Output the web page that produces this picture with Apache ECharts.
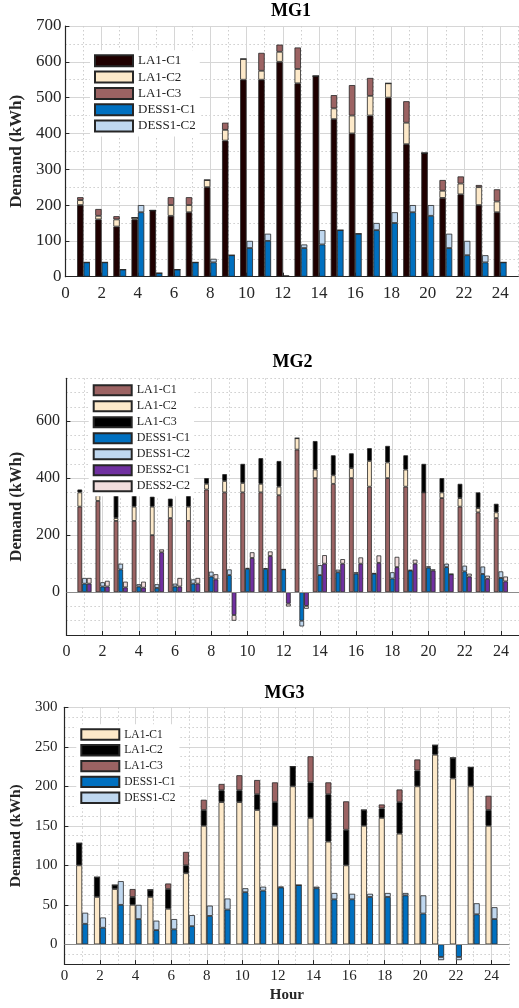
<!DOCTYPE html>
<html><head><meta charset="utf-8">
<script src="https://cdn.jsdelivr.net/npm/echarts@6/dist/echarts.min.js"></script>
<style>
html,body{margin:0;padding:0;background:#fff;width:519px;height:1008px;overflow:hidden}
.p{position:absolute;left:0;width:519px}
</style></head>
<body>
<div id="mg1" class="p" style="top:0;height:320px"></div>
<div id="mg2" class="p" style="top:320px;height:360px"></div>
<div id="mg3" class="p" style="top:680px;height:328px"></div>
<script>
// ---------- data ----------
const hourCategories = ['0','1','2','3','4','5','6','7','8','9','10','11','12','13','14','15','16','17','18','19','20','21','22','23','24','25'];
const hours = [1,2,3,4,5,6,7,8,9,10,11,12,13,14,15,16,17,18,19,20,21,22,23,24];

// MG1
const mg1_LA1_C1   = [200,160,140,160,185,170,180,250,380,550,550,600,540,560,440,400,450,500,370,345,220,230,200,180];
const mg1_LA1_C2   = [14,10,20,5,0,30,20,20,30,58,25,28,40,0,30,50,55,40,60,0,20,30,50,30];
const mg1_LA1_C3   = [8,19,9,0,0,22,22,0,20,0,50,20,60,0,37,85,50,0,60,0,30,20,6,34];
const mg1_DESS1_C1 = [40,40,20,180,10,20,40,40,60,80,100,2,80,90,130,120,130,150,180,170,80,60,40,40];
const mg1_DESS1_C2 = [0,0,0,20,0,0,0,10,0,20,20,0,10,40,0,0,20,30,20,30,40,40,20,0];
const mg1_yTicks = [0,100,200,300,400,500,600,700];

// MG2
const mg2_LA1_C1   = [300,320,250,250,200,260,250,360,350,350,350,340,500,400,380,400,370,400,370,350,330,300,280,260];
const mg2_LA1_C2   = [50,20,10,50,100,40,50,20,40,33,30,30,40,30,30,35,90,55,60,0,20,30,15,20];
const mg2_LA1_C3   = [10,20,80,45,35,28,50,20,24,67,90,90,0,100,70,52,45,58,50,100,50,50,55,30];
const mg2_DESS1_C1 = [30,20,80,20,15,20,30,55,60,82,82,80,-100,60,70,65,65,48,76,86,88,73,64,50];
const mg2_DESS1_C2 = [20,15,20,8,13,10,15,17,20,3,2,0,-20,35,9,5,2,22,2,5,12,20,26,23];
const mg2_DESS2_C1 = [30,20,17,16,140,20,30,45,-80,120,127,-40,-48,100,100,100,103,88,100,76,63,55,47,38];
const mg2_DESS2_C2 = [20,20,20,21,10,30,20,18,-20,20,16,-10,-10,30,16,22,26,36,14,4,1,10,11,17];
const mg2_yTicks = [0,200,400,600];

// MG3
const mg3_LA1_C1   = [100,60,70,50,60,45,90,150,180,180,170,150,200,160,130,100,150,160,140,200,240,210,200,150];
const mg3_LA1_C2   = [28,25,5,10,9,25,10,20,15,15,20,30,25,45,60,45,20,12,40,20,12,26,24,20];
const mg3_LA1_C3   = [0,0,0,10,0,7,17,13,8,19,18,25,0,33,15,36,0,5,16,14,0,0,0,18];
const mg3_DESS1_C1 = [26,21,50,32,18,19,23,36,44,66,68,72,75,71,57,57,60,60,62,39,-16,-16,38,32];
const mg3_DESS1_C2 = [14,13,30,18,12,13,14,13,14,5,5,1,0,2,8,7,4,5,3,23,-4,-4,14,15];
const mg3_yTicks = [0,50,100,150,200,250,300];

// ---------- styling ----------
const FONT = '"Liberation Serif","Times New Roman",serif';
const AX = '#262626';
const C_DARK = '#1f0000', C_CREAM = '#fde9c9', C_MAUVE = '#9c6363', C_BLUE = '#0070c0',
      C_LBLUE = '#bfd7ef', C_PURPLE = '#7030a0', C_PINK = '#f1dcdc', C_BLACK = '#000000';

function build(elId, cfg) {
  const chart = echarts.init(document.getElementById(elId), null, {renderer: 'canvas'});
  const series = cfg.series.map((s, k) => {
    const o = {
      type: 'bar', name: s.name, stack: s.stack, xAxisIndex: 1, yAxisIndex: 1,
      barWidth: cfg.barWidth, barGap: '0%',
      data: hours.map((h, i) => [String(h), s.values[i]]),
      itemStyle: {color: s.color, borderColor: '#262626', borderWidth: 0.8},
      emphasis: {disabled: true}, animation: false
    };
    if (k === 0 && cfg.baseline) {
      o.markLine = {silent: true, symbol: ['none','none'], label: {show: false}, animation: false,
        lineStyle: {color: '#8c8c8c', type: 'solid', width: 1}, data: [{yAxis: 0}]};
    }
    return o;
  });
  const yMajors = cfg.yTicks;
  chart.setOption({
    animation: false,
    title: {text: cfg.title, left: cfg.titleLeft, top: cfg.titleTop, padding: 0,
      textStyle: {fontFamily: FONT, fontWeight: 'bold', fontSize: 18, color: '#000'}},
    legend: {orient: 'vertical', left: cfg.legendLeft, top: cfg.legendTop, padding: 4,
      backgroundColor: '#fff', icon: 'rect', itemWidth: 38, itemHeight: cfg.legendItemH,
      itemGap: cfg.legendGap, selectedMode: false,
      textStyle: {fontFamily: FONT, fontSize: cfg.legendFont, color: '#222', lineHeight: cfg.legendItemH},
      data: cfg.series.map(s => s.name)},
    grid: cfg.grid,
    xAxis: [
      {type: 'category', data: hourCategories, boundaryGap: false, position: 'bottom',
        axisLine: {show: false, onZero: false}, axisTick: {show: false}, axisLabel: {show: false},
        splitLine: {show: true, interval: 0, lineStyle: {color: '#cdcdcd', type: [1.5, 2.5], width: 1}}},
      {type: 'category', data: hourCategories, boundaryGap: false, position: 'bottom',
        axisLine: {show: true, onZero: false, lineStyle: {color: AX, width: 1.2}},
        axisTick: {show: true, inside: true, length: 4, interval: 1, lineStyle: {color: AX}},
        axisLabel: {interval: 1, fontFamily: FONT, fontSize: cfg.tickFont, color: AX, margin: cfg.xLabelMargin},
        splitLine: {show: true, interval: 1, lineStyle: {color: '#d6d6d6', width: 1}},
        name: cfg.xName || '', nameLocation: 'middle', nameGap: cfg.xNameGap || 16,
        nameTextStyle: {fontFamily: FONT, fontWeight: 'bold', fontSize: 15, color: AX}}
    ],
    yAxis: [
      {type: 'value', min: cfg.yMin, max: cfg.yMax, interval: cfg.yMinor, position: 'left',
        axisLine: {show: false}, axisTick: {show: false}, axisLabel: {show: false},
        splitLine: {show: true, lineStyle: {color: '#cdcdcd', type: [1.5, 2.5], width: 1}}},
      {type: 'value', min: cfg.yMin, max: cfg.yMax, interval: cfg.yMinor, position: 'left',
        axisLine: {show: true, lineStyle: {color: AX, width: 1.2}},
        axisTick: {show: true, inside: true, length: 4, customValues: yMajors, lineStyle: {color: AX}},
        axisLabel: {customValues: yMajors, fontFamily: FONT, fontSize: cfg.tickFont, color: AX, margin: cfg.yLabelMargin,
          formatter: v => (yMajors.indexOf(v) >= 0 ? String(v) : '')},
        splitLine: {show: true, lineStyle: {color: '#d6d6d6', width: 1}},
        name: 'Demand (kWh)', nameLocation: 'middle', nameGap: cfg.yNameGap,
        nameTextStyle: {fontFamily: FONT, fontWeight: 'bold', fontSize: cfg.yNameFont, color: AX}}
    ],
    series: series
  });
}

build('mg1', {
  title: 'MG1', titleLeft: 271, titleTop: 2.5,
  grid: {left: 63.3, top: 26, width: 455, height: 250.7},
  yMin: 0, yMax: 700, yMinor: 50, yTicks: mg1_yTicks,
  tickFont: 17, yLabelMargin: 4, xLabelMargin: 8, yNameGap: 36, yNameFont: 17,
  legendLeft: 90, legendTop: 50.3, legendItemH: 11, legendGap: 3.3, legendFont: 13,
  barWidth: 6.4, baseline: false,
  series: [
    {name: 'LA1-C1', stack: 'LA', values: mg1_LA1_C1, color: C_DARK},
    {name: 'LA1-C2', stack: 'LA', values: mg1_LA1_C2, color: C_CREAM},
    {name: 'LA1-C3', stack: 'LA', values: mg1_LA1_C3, color: C_MAUVE},
    {name: 'DESS1-C1', stack: 'D1', values: mg1_DESS1_C1, color: C_BLUE},
    {name: 'DESS1-C2', stack: 'D1', values: mg1_DESS1_C2, color: C_LBLUE}
  ]
});

build('mg2', {
  title: 'MG2', titleLeft: 272.5, titleTop: 33,
  grid: {left: 59.3, top: 58.3, width: 467, height: 256.7},
  yMin: -150, yMax: 750, yMinor: 50, yTicks: mg2_yTicks,
  tickFont: 16, yLabelMargin: 6.5, xLabelMargin: 9, yNameGap: 36.5, yNameFont: 16.5,
  legendLeft: 88.7, legendTop: 60.3, legendItemH: 10, legendGap: 4, legendFont: 12,
  barWidth: 4.7, baseline: true,
  series: [
    {name: 'LA1-C1', stack: 'LA', values: mg2_LA1_C1, color: C_MAUVE},
    {name: 'LA1-C2', stack: 'LA', values: mg2_LA1_C2, color: C_CREAM},
    {name: 'LA1-C3', stack: 'LA', values: mg2_LA1_C3, color: C_BLACK},
    {name: 'DESS1-C1', stack: 'D1', values: mg2_DESS1_C1, color: C_BLUE},
    {name: 'DESS1-C2', stack: 'D1', values: mg2_DESS1_C2, color: C_LBLUE},
    {name: 'DESS2-C1', stack: 'D2', values: mg2_DESS2_C1, color: C_PURPLE},
    {name: 'DESS2-C2', stack: 'D2', values: mg2_DESS2_C2, color: C_PINK}
  ]
});

build('mg3', {
  title: 'MG3', titleLeft: 264.5, titleTop: 4,
  grid: {left: 60.7, top: 27.3, width: 448.6, height: 265.9},
  yMin: -25, yMax: 300, yMinor: 12.5, yTicks: mg3_yTicks,
  tickFont: 15, yLabelMargin: 7, xLabelMargin: 4, yNameGap: 37, yNameFont: 15.5,
  legendLeft: 76.3, legendTop: 44.3, legendItemH: 10.4, legendGap: 3.4, legendFont: 11.5,
  barWidth: 6, baseline: true, xName: 'Hour', xNameGap: 16,
  series: [
    {name: 'LA1-C1', stack: 'LA', values: mg3_LA1_C1, color: C_CREAM},
    {name: 'LA1-C2', stack: 'LA', values: mg3_LA1_C2, color: C_BLACK},
    {name: 'LA1-C3', stack: 'LA', values: mg3_LA1_C3, color: C_MAUVE},
    {name: 'DESS1-C1', stack: 'D1', values: mg3_DESS1_C1, color: C_BLUE},
    {name: 'DESS1-C2', stack: 'D1', values: mg3_DESS1_C2, color: C_LBLUE}
  ]
});
</script>
</body></html>
